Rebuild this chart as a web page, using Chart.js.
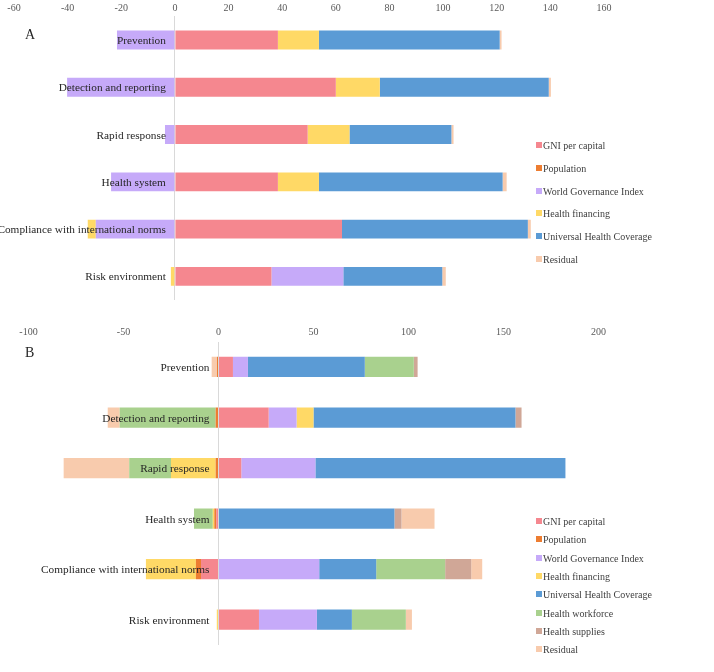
<!DOCTYPE html>
<html>
<head>
<meta charset="utf-8">
<script src="https://cdn.jsdelivr.net/npm/chart.js@4.4.1/dist/chart.umd.min.js"></script>
<style>
  html, body { margin:0; padding:0; background:#fff; }
  body { width:714px; height:672px; position:relative; overflow:hidden; font-family:"Liberation Serif","DejaVu Serif",serif; }
  .wrap { position:absolute; left:0; width:714px; }
  #wa { top:0; height:310px; }
  #wb { top:310px; height:362px; }
  .panel { position:absolute; font-size:14px; color:#262626; }
  .leg { position:absolute; left:536px; font-size:10px; color:#404040; white-space:nowrap; line-height:12px; }
  .leg span.sw { display:inline-block; width:6px; height:6px; margin-right:1px; vertical-align:1px; }
</style>
</head>
<body>
<div class="wrap" id="wa"><canvas id="ca"></canvas></div>
<div class="wrap" id="wb"><canvas id="cb"></canvas></div>
<div class="panel" style="left:25px;top:27px;">A</div>
<div class="panel" style="left:25px;top:345px;">B</div>
<div id="legA"></div>
<div id="legB"></div>
<script>
// ---------- Data ----------
const categories = ['Prevention','Detection and reporting','Rapid response','Health system','Compliance with international norms','Risk environment'];

// Panel A
const gniA = [38.4, 60.0, 49.5, 38.4, 62.3, 36.0];
const popA = [0, 0, 0, 0, 0, 0];
const wgiA = [-21.6, -40.2, -3.7, -23.8, -29.5, 26.8];
const hfA  = [15.3, 16.4, 15.6, 15.3, -3.0, -1.5];
const uhcA = [67.4, 63.0, 38.0, 68.5, 69.3, 36.9];
const resA = [0.7, 0.8, 0.8, 1.5, 1.1, 1.3];
const ticksA = [-60, -40, -20, 0, 20, 40, 60, 80, 100, 120, 140, 160];

// Panel B
const gniB = [7.6, 26.4, 12.0, -1.2, -9.2, 21.3];
const popB = [-0.8, -1.5, -1.5, -1.0, -2.7, 0];
const wgiB = [7.9, 14.7, 39.0, 0, 53.0, 30.5];
const hfB  = [0, 8.9, -23.5, -0.8, -26.3, -0.9];
const uhcB = [61.5, 106.3, 131.6, 92.6, 30.0, 18.4];
const hwB  = [25.8, -50.5, -22.0, -9.9, 36.3, 28.4];
const hsB  = [2.0, 3.2, 0, 3.7, 13.7, 0];
const resB = [-2.8, -6.3, -34.5, 17.4, 5.8, 3.2];
const ticksB = [-100, -50, 0, 50, 100, 150, 200];

const seriesNamesA = ['GNI per capital','Population','World Governance Index','Health financing','Universal Health Coverage','Residual'];
const seriesNamesB = ['GNI per capital','Population','World Governance Index','Health financing','Universal Health Coverage','Health workforce','Health supplies','Residual'];

const COL = {
  'GNI per capital':'#F5878F',
  'Population':'#ED7D31',
  'World Governance Index':'#C6AAF9',
  'Health financing':'#FFD966',
  'Universal Health Coverage':'#5B9BD5',
  'Health workforce':'#A9D18E',
  'Health supplies':'#D0A797',
  'Residual':'#F8CBAD'
};

const catLabels = {
  id:'catLabels',
  afterDatasetsDraw(chart){
    const {ctx, scales:{x, y}} = chart;
    const x0 = x.getPixelForValue(0) - 9;
    ctx.save();
    ctx.font = '11.3px "Liberation Serif"';
    ctx.fillStyle = '#262626';
    ctx.textAlign = 'right';
    ctx.textBaseline = 'middle';
    chart.data.labels.forEach((lab, i) => {
      ctx.fillText(lab, x0, y.getPixelForValue(i) + 1);
    });
    ctx.restore();
  }
};

function makeChart(id, names, arrays, ticks, pad, axisH, tickPad){
  const datasets = names.map((n, i) => ({
    label:n, data:arrays[i], backgroundColor:COL[n], borderWidth:0,
    barPercentage:0.4, categoryPercentage:1.0
  }));
  return new Chart(document.getElementById(id), {
    type:'bar',
    data:{ labels:categories, datasets },
    options:{
      indexAxis:'y', responsive:true, maintainAspectRatio:false, animation:false,
      layout:{ padding:pad },
      plugins:{ legend:{display:false}, tooltip:{enabled:false} },
      scales:{
        x:{
          type:'linear', position:'top', stacked:true,
          min:ticks[0], max:ticks[ticks.length-1],
          afterBuildTicks: s => { s.ticks = ticks.map(v => ({value:v})); },
          afterFit: s => { s.height = axisH; },
          ticks:{ color:'#595959', font:{family:'Liberation Serif', size:10}, padding:tickPad, maxRotation:0 },
          grid:{ drawTicks:false, color: c => (c.tick && c.tick.value === 0) ? '#d9d9d9' : 'rgba(0,0,0,0)', lineWidth:1 },
          border:{ display:false }
        },
        y:{ stacked:true, display:false }
      }
    },
    plugins:[catLabels]
  });
}

makeChart('ca', seriesNamesA, [gniA, popA, wgiA, hfA, uhcA, resA], ticksA,
  {left:14, right:110, top:0, bottom:10}, 16.4, 2);
makeChart('cb', seriesNamesB, [gniB, popB, wgiB, hfB, uhcB, hwB, hsB, resB], ticksB,
  {left:28.5, right:115.5, top:15.7, bottom:27}, 16, 3);

function legend(elId, names, y0, dy){
  const el = document.getElementById(elId);
  names.forEach((n, i) => {
    const d = document.createElement('div');
    d.className = 'leg';
    d.style.top = (y0 + i*dy - 6) + 'px';
    d.innerHTML = '<span class="sw" style="background:' + COL[n] + '"></span>' + n;
    el.appendChild(d);
  });
}
legend('legA', seriesNamesA, 146, 22.8);
legend('legB', seriesNamesB, 522, 18.3);
</script>
</body>
</html>
